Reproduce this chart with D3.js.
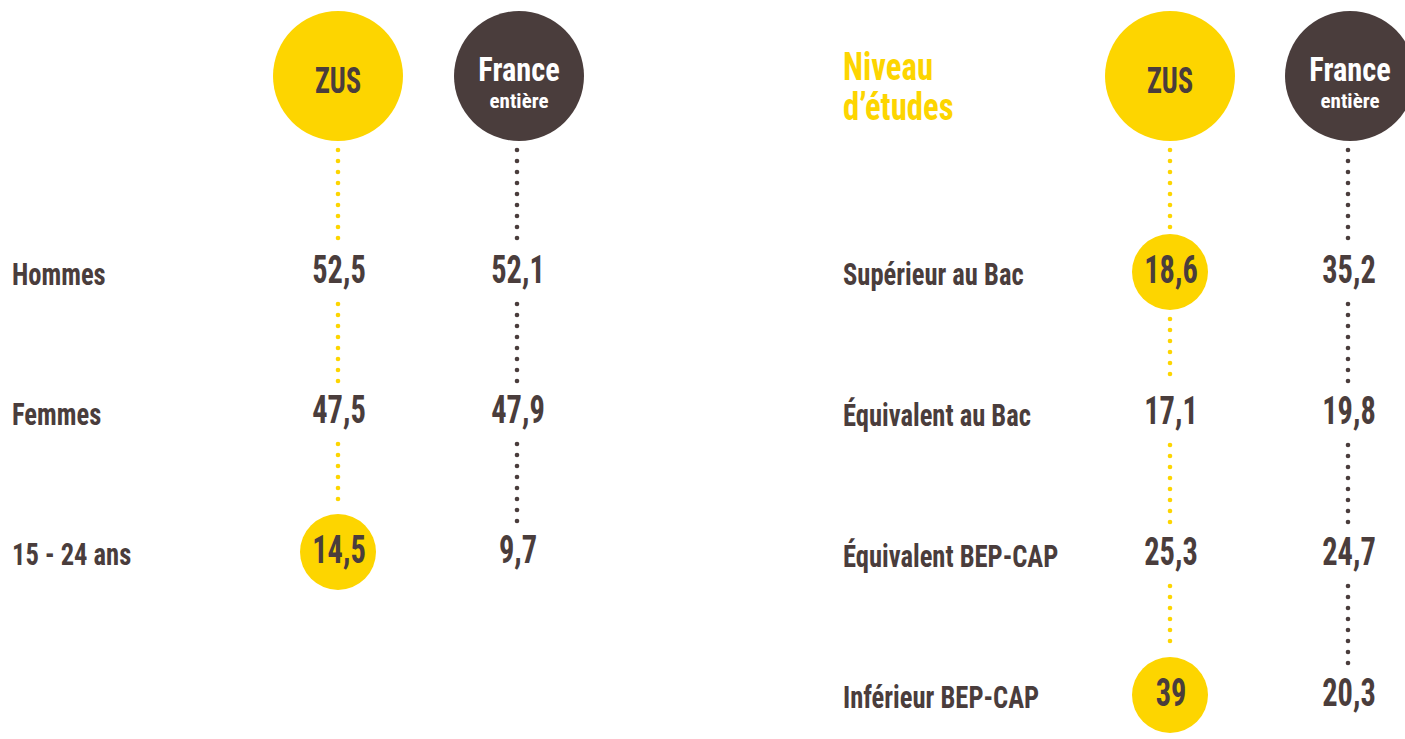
<!DOCTYPE html>
<html>
<head>
<meta charset="utf-8">
<script src="https://cdn.jsdelivr.net/npm/d3@7"></script>
<style>
  body { margin: 0; background: #fff; }
  svg text { font-family: "Liberation Sans Narrow", "Roboto Condensed", "DejaVu Sans Condensed", sans-serif; font-weight: 700; }
</style>
</head>
<body>
<div id="chart"></div>
<script>
// data
const sexeCats = ['Hommes', 'Femmes', '15 - 24 ans'];
const sexeZus = [52.5, 47.5, 14.5];
const sexeFrance = [52.1, 47.9, 9.7];
const sexeHighlight = ['15 - 24 ans'];

const etudesTitle = ['Niveau', 'd\u2019études'];
const etudesCats = ['Supérieur au Bac', 'Équivalent au Bac', 'Équivalent BEP-CAP', 'Inférieur BEP-CAP'];
const etudesZus = [18.6, 17.1, 25.3, 39];
const etudesFrance = [35.2, 19.8, 24.7, 20.3];
const etudesHighlight = ['Supérieur au Bac', 'Inférieur BEP-CAP'];

const YELLOW = '#fdd500';
const BROWN = '#4a3d3c';
const W = 1405, H = 739;

const fmt = v => String(v).replace('.', ',');

const svg = d3.select('#chart').append('svg')
  .attr('width', W)
  .attr('height', H);

// text squeezed horizontally, the original face is very condensed
const squeeze = (x, y, sx) => `translate(${x},${y}) scale(${sx},1)`;

function drawPanel(cfg) {
  const g = svg.append('g');
  const { cats, zus, france, highlight, labelX, colX, rowY } = cfg;

  // row scale
  const y = d3.scalePoint()
    .domain(cats)
    .range([rowY[0], rowY[0] + rowY[1] * (cats.length - 1)]);

  // column scale
  const x = d3.scaleOrdinal()
    .domain(['zus', 'france'])
    .range(colX);

  const headerY = 76, headerR = 65;

  const cols = [
    { key: 'zus', values: zus, dot: YELLOW },
    { key: 'france', values: france, dot: BROWN }
  ];

  // dotted lines between header and rows
  cols.forEach(c => {
    const stops = [{ y: headerY, gap: headerR + 9 }]
      .concat(cats.map(cat => ({
        y: y(cat),
        gap: (c.key === 'zus' && highlight.includes(cat)) ? 46 : 31
      })));
    const dots = [];
    for (let i = 0; i < stops.length - 1; i++) {
      const a = stops[i].y + stops[i].gap;
      const b = stops[i + 1].y - stops[i + 1].gap;
      d3.range(a, b + 0.1, 11).forEach(d => dots.push(d));
    }
    g.selectAll(null)
      .data(dots)
      .join('circle')
      .attr('cx', x(c.key))
      .attr('cy', d => d)
      .attr('r', 2.3)
      .attr('fill', c.dot);
  });

  // header circles
  g.append('circle')
    .attr('cx', x('zus')).attr('cy', headerY).attr('r', headerR)
    .attr('fill', YELLOW);
  g.append('text')
    .attr('transform', squeeze(x('zus'), headerY + 17, 0.76))
    .attr('text-anchor', 'middle')
    .attr('fill', BROWN)
    .style('font-size', '37px')
    .text('ZUS');

  g.append('circle')
    .attr('cx', x('france') + 2).attr('cy', headerY).attr('r', headerR)
    .attr('fill', BROWN);
  g.append('text')
    .attr('transform', squeeze(x('france') + 2, headerY + 5, 0.92))
    .attr('text-anchor', 'middle')
    .attr('fill', '#fff')
    .style('font-size', '33px')
    .text('France');
  g.append('text')
    .attr('transform', squeeze(x('france') + 2, headerY + 32, 1))
    .attr('text-anchor', 'middle')
    .attr('fill', '#fff')
    .style('font-size', '21px')
    .text('entière');

  // highlight circles
  g.selectAll('.hl')
    .data(highlight)
    .join('circle')
    .attr('class', 'hl')
    .attr('cx', x('zus'))
    .attr('cy', d => y(d) - 1)
    .attr('r', 38)
    .attr('fill', YELLOW);

  // row labels
  g.selectAll('.lbl')
    .data(cats)
    .join('text')
    .attr('class', 'lbl')
    .attr('transform', d => squeeze(labelX, y(d) + 12, 0.83))
    .attr('fill', BROWN)
    .style('font-size', '32px')
    .text(d => d);

  // values
  cols.forEach(c => {
    g.selectAll(null)
      .data(cats)
      .join('text')
      .attr('transform', d => squeeze(x(c.key) + 1, y(d) + 10, 0.8))
      .attr('text-anchor', 'middle')
      .attr('fill', BROWN)
      .style('font-size', '38px')
      .text((d, i) => fmt(c.values[i]));
  });

  return g;
}

drawPanel({
  cats: sexeCats, zus: sexeZus, france: sexeFrance, highlight: sexeHighlight,
  labelX: 12, colX: [338, 517], rowY: [273, 140]
});

const right = drawPanel({
  cats: etudesCats, zus: etudesZus, france: etudesFrance, highlight: etudesHighlight,
  labelX: 843, colX: [1170, 1348], rowY: [273, 141]
});

// title of the right panel, one text block with two lines
right.append('text')
  .attr('class', 'title')
  .attr('transform', squeeze(843, 80, 0.84))
  .attr('fill', YELLOW)
  .style('font-size', '39px')
  .selectAll('tspan')
  .data(etudesTitle)
  .join('tspan')
  .attr('x', 0)
  .attr('dy', (d, i) => i === 0 ? 0 : 40)
  .text(d => d);
</script>
</body>
</html>
